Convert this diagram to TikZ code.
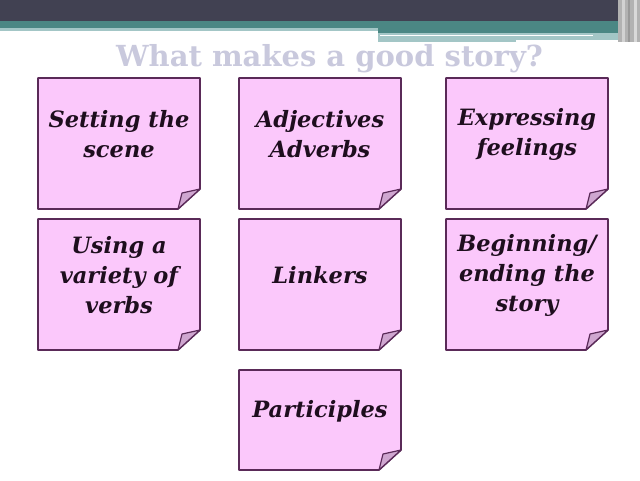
\documentclass[tikz,border=0pt]{standalone}
\usepackage{fontspec}
\setmainfont{DejaVu Serif}
\definecolor{darkband}{HTML}{414152}
\definecolor{tealband}{HTML}{4B8784}
\definecolor{lightteal}{HTML}{A3C6C6}
\definecolor{titlecol}{HTML}{C9C9DD}
\definecolor{notefill}{HTML}{FBC8FB}
\definecolor{noteedge}{HTML}{5A2A58}
\definecolor{foldfill}{HTML}{CFA6D0}
\definecolor{textcol}{HTML}{1E0E1E}
\begin{document}
\begin{tikzpicture}[x=1pt,y=-1pt,
  notetext/.style={text=textcol,font=\fontsize{22.5}{30}\selectfont\bfseries\itshape,align=center},
  noteline/.style={draw=noteedge,line width=1.6pt,line join=round}]
\useasboundingbox (0,0) rectangle (640,480);
\fill[white] (0,0) rectangle (640,480);
% header
\fill[darkband] (0,0) rectangle (640,21);
\fill[tealband] (0,21) rectangle (640,28);
\fill[lightteal] (0,28) rectangle (378,31);
\fill[tealband] (378,28) rectangle (640,33);
\fill[lightteal] (378,33) rectangle (640,40);
\fill[lightteal] (378,40) rectangle (516,42);
\fill[white] (380,34.5) rectangle (593,36);
\fill[gray!60] (618,0) rectangle (640,42);
\fill[gray!35] (622,0) rectangle (625,42);
\fill[gray!80] (628,0) rectangle (630,42);
\fill[gray!30] (634,0) rectangle (637,42);
% title
\node[text=titlecol,font=\fontsize{29}{34}\selectfont\bfseries,anchor=base,inner sep=0pt] (title) at (329.5,66) {What makes a good story?};
% notes
\foreach \n/\l/\t/\r/\b/\txt in {
  a/38/78/200/209/{Setting the\\scene},
  b/239/78/401/209/{Adjectives\\Adverbs},
  c/446/78/608/209/{Expressing\\feelings},
  d/38/219/200/350/{Using a\\variety of\\verbs},
  e/239/219/401/350/{Linkers},
  f/446/219/608/350/{Beginning/\\ending the\\story},
  g/239/370/401/470/{Participles}}{
  \fill[notefill] (\l,\t) -- (\r,\t) -- (\r,\b-20) -- (\r-22,\b) -- (\l,\b) -- cycle;
  \draw[noteline] (\l,\t) -- (\r,\t) -- (\r,\b-20) -- (\r-22,\b) -- (\l,\b) -- cycle;
  \filldraw[fill=foldfill,noteline,line width=1.2pt] (\r,\b-20) -- (\r-18,\b-16) -- (\r-22,\b) -- cycle;
  \node[notetext] (\n) at ({(\l+\r)/2},{(\t+\b)/2-9}) {\txt};
}
\end{tikzpicture}
\end{document}
